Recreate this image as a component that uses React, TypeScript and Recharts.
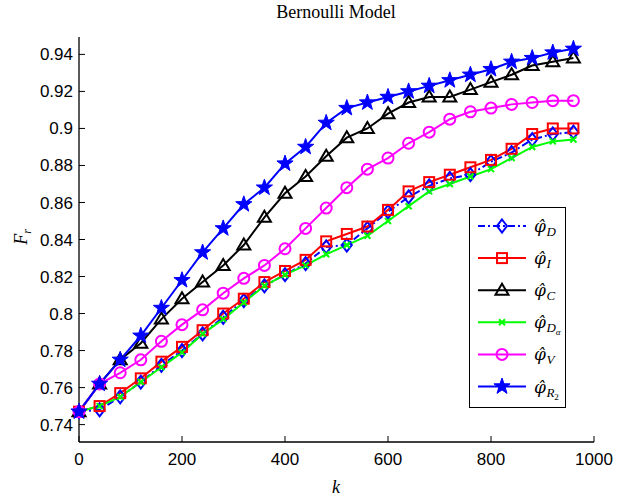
import React from 'react';
import { LineChart, Line, XAxis, YAxis, Legend, Customized } from 'recharts';

const kValues = [0, 40, 80, 120, 160, 200, 240, 280, 320, 360, 400, 440, 480, 520, 560, 600, 640, 680, 720, 760, 800, 840, 880, 920, 960];
const phiD = [0.747, 0.748, 0.755, 0.763, 0.772, 0.780, 0.789, 0.798, 0.807, 0.815, 0.821, 0.827, 0.836, 0.837, 0.846, 0.855, 0.863, 0.869, 0.873, 0.875, 0.882, 0.887, 0.894, 0.897, 0.898];
const phiI = [0.747, 0.750, 0.757, 0.765, 0.774, 0.782, 0.791, 0.800, 0.808, 0.817, 0.823, 0.829, 0.839, 0.843, 0.847, 0.856, 0.866, 0.871, 0.875, 0.879, 0.883, 0.889, 0.897, 0.900, 0.900];
const phiC = [0.747, 0.762, 0.775, 0.784, 0.797, 0.808, 0.817, 0.826, 0.837, 0.852, 0.865, 0.874, 0.885, 0.895, 0.900, 0.908, 0.914, 0.917, 0.917, 0.921, 0.925, 0.929, 0.934, 0.936, 0.938];
const phiDa = [0.747, 0.750, 0.755, 0.763, 0.771, 0.779, 0.789, 0.797, 0.806, 0.815, 0.821, 0.826, 0.832, 0.837, 0.842, 0.850, 0.858, 0.866, 0.870, 0.874, 0.878, 0.884, 0.890, 0.893, 0.894];
const phiV = [0.747, 0.762, 0.768, 0.775, 0.785, 0.794, 0.802, 0.811, 0.819, 0.826, 0.835, 0.846, 0.857, 0.868, 0.878, 0.884, 0.892, 0.898, 0.905, 0.909, 0.911, 0.913, 0.914, 0.915, 0.915];
const phiR2 = [0.747, 0.762, 0.775, 0.788, 0.803, 0.818, 0.833, 0.846, 0.859, 0.868, 0.881, 0.890, 0.903, 0.911, 0.914, 0.917, 0.920, 0.923, 0.926, 0.929, 0.932, 0.936, 0.938, 0.941, 0.943];

const xTicks = [0, 200, 400, 600, 800, 1000];
const yTicks = [0.74, 0.76, 0.78, 0.8, 0.82, 0.84, 0.86, 0.88, 0.9, 0.92, 0.94];
const xDomain = [0, 1000];
const yDomain = [0.7306, 0.9494];

const titleText = 'Bernoulli Model';
const xLabelText = 'k';

const data = kValues.map((k, i) => ({
  k,
  D: phiD[i],
  I: phiI[i],
  C: phiC[i],
  Da: phiDa[i],
  V: phiV[i],
  R2: phiR2[i],
}));

const BLUE = '#0000ff';
const RED = '#ff0000';
const BLACK = '#000000';
const GREEN = '#00ff00';
const MAGENTA = '#ff00ff';

const diamondShape = (cx: number, cy: number) => (
  <path d={`M${cx},${cy - 6.5}L${cx + 5},${cy}L${cx},${cy + 6.5}L${cx - 5},${cy}Z`} fill="none" stroke={BLUE} strokeWidth={2} />
);
const squareShape = (cx: number, cy: number) => (
  <rect x={cx - 5} y={cy - 5} width={10} height={10} fill="none" stroke={RED} strokeWidth={2} />
);
const triangleShape = (cx: number, cy: number) => (
  <path d={`M${cx},${cy - 6.5}L${cx + 6.5},${cy + 4.5}L${cx - 6.5},${cy + 4.5}Z`} fill="none" stroke={BLACK} strokeWidth={2} />
);
const xShape = (cx: number, cy: number) => (
  <g stroke={GREEN} strokeWidth={2}>
    <line x1={cx - 3} y1={cy - 3} x2={cx + 3} y2={cy + 3} />
    <line x1={cx - 3} y1={cy + 3} x2={cx + 3} y2={cy - 3} />
  </g>
);
const circleShape = (cx: number, cy: number) => (
  <circle cx={cx} cy={cy} r={5.5} fill="none" stroke={MAGENTA} strokeWidth={2} />
);
const starShape = (cx: number, cy: number) => {
  const R = 8.5;
  const r = R * 0.4;
  const pts: string[] = [];
  for (let i = 0; i < 10; i++) {
    const ang = -Math.PI / 2 + (i * Math.PI) / 5;
    const rad = i % 2 === 0 ? R : r;
    pts.push(`${cx + rad * Math.cos(ang)},${cy + rad * Math.sin(ang)}`);
  }
  return <polygon points={pts.join(' ')} fill={BLUE} stroke={BLUE} strokeWidth={1} />;
};

const mkDot = (fn: (cx: number, cy: number) => React.ReactElement) => (props: any) => {
  const { cx, cy, index } = props;
  if (cx == null || cy == null) return <g key={`n${index}`} />;
  return <g key={`d${index}`}>{fn(cx, cy)}</g>;
};

const series = [
  { key: 'D', color: BLUE, dash: '7 3 2 3', shape: diamondShape, sub: 'D', subsub: '' },
  { key: 'I', color: RED, dash: undefined, shape: squareShape, sub: 'I', subsub: '' },
  { key: 'C', color: BLACK, dash: undefined, shape: triangleShape, sub: 'C', subsub: '' },
  { key: 'Da', color: GREEN, dash: undefined, shape: xShape, sub: 'D', subsub: 'α' },
  { key: 'V', color: MAGENTA, dash: undefined, shape: circleShape, sub: 'V', subsub: '' },
  { key: 'R2', color: BLUE, dash: undefined, shape: starShape, sub: 'R', subsub: '2' },
];

const LegendBox = () => (
  <svg width={98} height={202} style={{ display: 'block' }}>
    <rect x={0.5} y={0.5} width={96} height={200} fill="#ffffff" stroke="#000" strokeWidth={1} />
    {series.map((s, i) => {
      const y = 19 + i * 32.1;
      return (
        <g key={s.key}>
          <line x1={9} y1={y} x2={57} y2={y} stroke={s.color} strokeWidth={2} strokeDasharray={s.dash} />
          {s.shape(33, y)}
          <text x={65} y={y + 6} fontFamily="Liberation Serif" fill="#000">
            <tspan fontFamily="DejaVu Serif" fontStyle="italic" fontSize={17}>{'φ\u0302'}</tspan>
            <tspan fontStyle="italic" fontSize={13} dx={0.5} dy={4}>{s.sub}</tspan>
            {s.subsub ? (
              <tspan fontStyle={s.key === 'Da' ? 'italic' : 'normal'} fontSize={9} dy={3}>{s.subsub}</tspan>
            ) : null}
          </text>
        </g>
      );
    })}
  </svg>
);

const Decorations = () => (
  <g>
    <text x={336} y={18} textAnchor="middle" fontFamily="Liberation Serif" fontSize={18} fill="#000">{titleText}</text>
    <text x={336} y={493} textAnchor="middle" fontFamily="Liberation Serif" fontStyle="italic" fontSize={18} fill="#000">{xLabelText}</text>
    <g transform="translate(27,237) rotate(-90)">
      <text x={0} y={0} textAnchor="middle" fontFamily="Liberation Serif" fontSize={18} fill="#000">
        <tspan fontStyle="italic">F</tspan>
        <tspan fontStyle="italic" fontSize={12} dy={4}>r</tspan>
      </text>
    </g>
  </g>
);

const tickStyle = { fontFamily: 'Liberation Sans, Arial', fontSize: 17, fill: '#000' };

export default function App() {
  return (
    <div style={{ position: 'absolute', left: 0, top: 0, width: 617, height: 502, background: '#fff' }}>
      <LineChart width={617} height={502} data={data} margin={{ top: 37, right: 23, left: 0, bottom: 0 }}>
        <XAxis
          xAxisId="b"
          dataKey="k"
          type="number"
          domain={xDomain}
          ticks={xTicks}
          orientation="bottom"
          height={60}
          tickSize={-6}
          tickMargin={17}
          stroke="#000"
          tick={tickStyle}
          axisLine={{ stroke: '#000', strokeWidth: 1.3 }}
          tickLine={{ stroke: '#000' }}
          interval={0}
        />
        <XAxis
          xAxisId="t"
          dataKey="k"
          type="number"
          domain={xDomain}
          ticks={xTicks}
          orientation="top"
          height={0}
          tickSize={-6}
          tick={false}
          axisLine={{ stroke: '#000', strokeWidth: 1.3 }}
          tickLine={{ stroke: '#000' }}
          interval={0}
        />
        <YAxis
          yAxisId="l"
          type="number"
          domain={yDomain}
          ticks={yTicks}
          allowDataOverflow
          orientation="left"
          width={79}
          tickSize={-6}
          tickMargin={12}
          tick={tickStyle}
          axisLine={{ stroke: '#000', strokeWidth: 1.3 }}
          tickLine={{ stroke: '#000' }}
          interval={0}
        />
        <YAxis
          yAxisId="r"
          type="number"
          domain={yDomain}
          ticks={yTicks}
          allowDataOverflow
          orientation="right"
          width={0}
          tickSize={-6}
          tick={false}
          axisLine={{ stroke: '#000', strokeWidth: 1.3 }}
          tickLine={{ stroke: '#000' }}
          interval={0}
        />
        {series.map((s) => (
          <Line
            key={s.key}
            xAxisId="b"
            yAxisId="l"
            dataKey={s.key}
            type="linear"
            stroke={s.color}
            strokeWidth={2}
            strokeDasharray={s.dash}
            dot={mkDot(s.shape)}
            activeDot={false}
            isAnimationActive={false}
          />
        ))}
        <Legend
          layout="vertical"
          align="center"
          verticalAlign="middle"
          content={() => <LegendBox />}
          wrapperStyle={{ position: 'absolute', left: 469, top: 207, width: 98, height: 202 }}
        />
        <Customized component={Decorations} />
      </LineChart>
    </div>
  );
}
